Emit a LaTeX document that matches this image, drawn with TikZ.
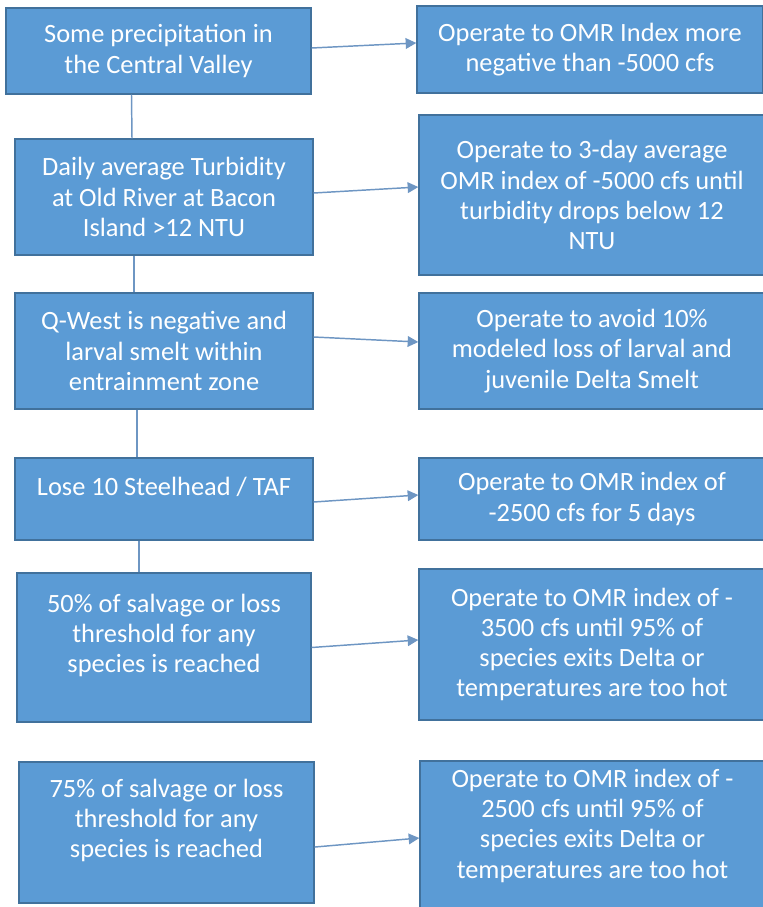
\documentclass[tikz,border=0pt]{standalone}
\usepackage{fontspec}
\setmainfont{Carlito}
\usetikzlibrary{arrows.meta}
\definecolor{boxblue}{RGB}{91,155,213}
\definecolor{boxedge}{RGB}{65,113,156}
\definecolor{linkblue}{RGB}{110,150,195}
\tikzset{
  box/.style={rectangle,draw=boxedge,line width=1pt,fill=boxblue,text=white,
    align=center,inner sep=0pt,font=\fontsize{19.8}{22.6}\selectfont},
  link/.style={draw=linkblue,line width=1.1pt},
  go/.style={draw=linkblue,line width=1.1pt,-{Triangle[length=8pt,width=8pt]}}
}
\begin{document}
\begin{tikzpicture}[x=0.75pt,y=-0.75pt]
 \useasboundingbox (0,0) rectangle (763,907);
 \clip (0,0) rectangle (763,907);
 % conditions
 \node[box,minimum width=228.75pt,minimum height=64.5pt] (c1) at (158.5,51) {Some precipitation in\\the Central Valley};
 \node[box,minimum width=223.5pt,minimum height=87pt] (c2) at (164,197) {Daily average Turbidity\\at Old River at Bacon\\Island >12 NTU};
 \node[box,minimum width=223.5pt,minimum height=87pt] (c3) at (164,351) {Q-West is negative and\\larval smelt within\\entrainment zone};
 \node[box,minimum width=223.5pt,minimum height=61.5pt] (c4) at (164,499) {Lose 10 Steelhead / TAF\\[-10pt] \strut};
 \node[box,minimum width=220.5pt,minimum height=111.75pt] (c5) at (164,647.5) {50\% of salvage or loss\\threshold for any\\species is reached\\[-8pt] \strut};
 \node[box,minimum width=221.25pt,minimum height=105.75pt] (c6) at (166.5,832.5) {75\% of salvage or loss\\threshold for any\\species is reached\\[-8pt] \strut};
 % actions
 \node[box,minimum width=259.5pt,minimum height=65.25pt] (a1) at (590,49.5) {Operate to OMR Index more\\negative than -5000 cfs};
 \node[box,minimum width=259.5pt,minimum height=120pt] (a2) at (592,195) {Operate to 3-day average\\OMR index of -5000 cfs until\\turbidity drops below 12\\NTU};
 \node[box,minimum width=259.5pt,minimum height=87pt] (a3) at (592,351) {Operate to avoid 10\%\\modeled loss of larval and\\juvenile Delta Smelt};
 \node[box,minimum width=259.5pt,minimum height=61.5pt] (a4) at (592,499) {Operate to OMR index of\\-2500 cfs for 5 days};
 \node[box,minimum width=259.5pt,minimum height=113.25pt] (a5) at (592,644.5) {Operate to OMR index of -\\3500 cfs until 95\% of\\species exits Delta or\\temperatures are too hot};
 \node[box,minimum width=258.75pt,minimum height=115.5pt] (a6) at (592.5,838) {Operate to OMR index of -\\2500 cfs until 95\% of\\species exits Delta or\\temperatures are too hot\\[-8pt] \strut};
 % chain down the left
 \draw[link] ([xshift=-20.25pt]c1.south) -- ([xshift=-24pt]c2.north);
 \draw[link] ([xshift=-22.5pt]c2.south) -- ([xshift=-22.5pt]c3.north);
 \draw[link] ([xshift=-20.25pt]c3.south) -- ([xshift=-20.25pt]c4.north);
 \draw[link] ([xshift=-18.75pt]c4.south) -- ([xshift=-18.75pt]c5.north);
 % arrows across
 \draw[go] ([yshift=2.25pt]c1.east) -- ([yshift=4.9pt]a1.west);
 \draw[go] ([yshift=3pt]c2.east) -- ([yshift=6pt]a2.west);
 \draw[go] ([yshift=10.5pt]c3.east) -- ([yshift=6.75pt]a3.west);
 \draw[go] ([yshift=-2.25pt]c4.east) -- ([yshift=3pt]a4.west);
 \draw[go] (c5.east) -- ([yshift=3.4pt]a5.west);
 \draw[go] ([yshift=-10.9pt]c6.east) -- (a6.west);
\end{tikzpicture}
\end{document}
